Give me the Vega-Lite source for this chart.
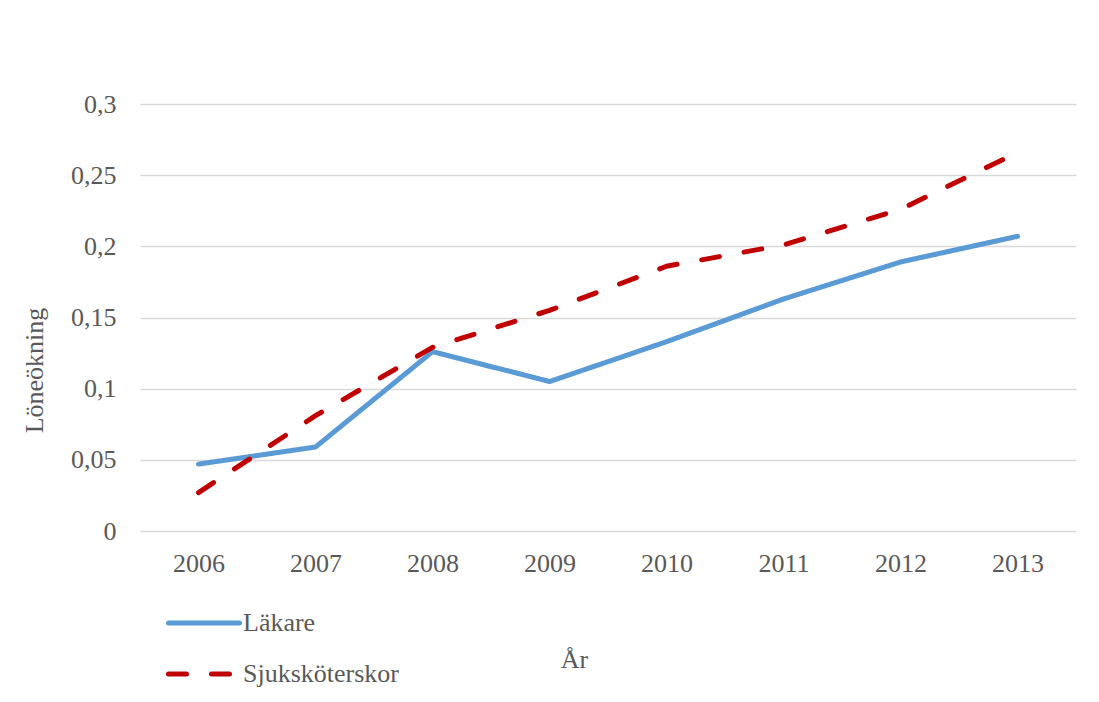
{
  "$schema": "https://vega.github.io/schema/vega-lite/v6.json",
  "width": 936,
  "height": 427,
  "autosize": {"type": "none"},
  "padding": {"left": 140, "top": 104, "right": 23, "bottom": 171},
  "background": "#ffffff",
  "config": {
    "font": "Liberation Serif",
    "view": {"stroke": null},
    "axis": {
      "labelFont": "Liberation Serif",
      "titleFont": "Liberation Serif",
      "labelFontSize": 26,
      "titleFontSize": 26,
      "labelColor": "#595959",
      "titleColor": "#595959",
      "titleFontWeight": "normal",
      "ticks": false,
      "domain": false
    },
    "legend": {
      "labelFont": "Liberation Serif",
      "labelFontSize": 26,
      "labelColor": "#595959"
    }
  },
  "data": {
    "values": [
      {"year": "2006", "series": "Läkare", "value": 0.047},
      {"year": "2007", "series": "Läkare", "value": 0.059},
      {"year": "2008", "series": "Läkare", "value": 0.126},
      {"year": "2009", "series": "Läkare", "value": 0.105},
      {"year": "2010", "series": "Läkare", "value": 0.133},
      {"year": "2011", "series": "Läkare", "value": 0.163},
      {"year": "2012", "series": "Läkare", "value": 0.189},
      {"year": "2013", "series": "Läkare", "value": 0.207},
      {"year": "2006", "series": "Sjuksköterskor", "value": 0.027},
      {"year": "2007", "series": "Sjuksköterskor", "value": 0.081},
      {"year": "2008", "series": "Sjuksköterskor", "value": 0.129},
      {"year": "2009", "series": "Sjuksköterskor", "value": 0.155},
      {"year": "2010", "series": "Sjuksköterskor", "value": 0.186},
      {"year": "2011", "series": "Sjuksköterskor", "value": 0.201},
      {"year": "2012", "series": "Sjuksköterskor", "value": 0.226},
      {"year": "2013", "series": "Sjuksköterskor", "value": 0.266}
    ]
  },
  "mark": {"type": "line", "strokeWidth": 5, "strokeCap": "round", "strokeJoin": "round"},
  "encoding": {
    "x": {
      "field": "year",
      "type": "ordinal",
      "scale": {"type": "point", "padding": 0.5},
      "axis": {
        "title": "År",
        "labelAngle": 0,
        "labelPadding": 40,
        "labelBaseline": "alphabetic",
        "grid": false,
        "titleX": 434,
        "titleY": 136,
        "titleAlign": "center",
        "titleBaseline": "alphabetic"
      }
    },
    "y": {
      "field": "value",
      "type": "quantitative",
      "scale": {"domain": [0, 0.3], "nice": false},
      "axis": {
        "title": "Löneökning",
        "values": [0, 0.05, 0.1, 0.15, 0.2, 0.25, 0.3],
        "labelExpr": "replace(toString(datum.value), '.', ',')",
        "labelPadding": 24,
        "grid": true,
        "gridColor": "#D9D9D9",
        "gridWidth": 1.5,
        "titlePadding": 23,
        "titleY": 266
      }
    },
    "color": {
      "field": "series",
      "type": "nominal",
      "scale": {"domain": ["Läkare", "Sjuksköterskor"], "range": ["#5B9BD5", "#C00000"]},
      "legend": {
        "title": null,
        "orient": "none",
        "legendX": 26,
        "legendY": 481,
        "padding": 0,
        "symbolType": "stroke",
        "symbolSize": 5041,
        "symbolStrokeWidth": 5,
        "labelOffset": 1,
        "rowPadding": -21,
        "labelBaseline": "middle",
        "encode": {"symbols": {"update": {"strokeCap": {"value": "round"}}}}
      }
    },
    "strokeDash": {
      "field": "series",
      "type": "nominal",
      "scale": {"domain": ["Läkare", "Sjuksköterskor"], "range": [[1, 0], [18, 25]]},
      "legend": null
    }
  }
}
